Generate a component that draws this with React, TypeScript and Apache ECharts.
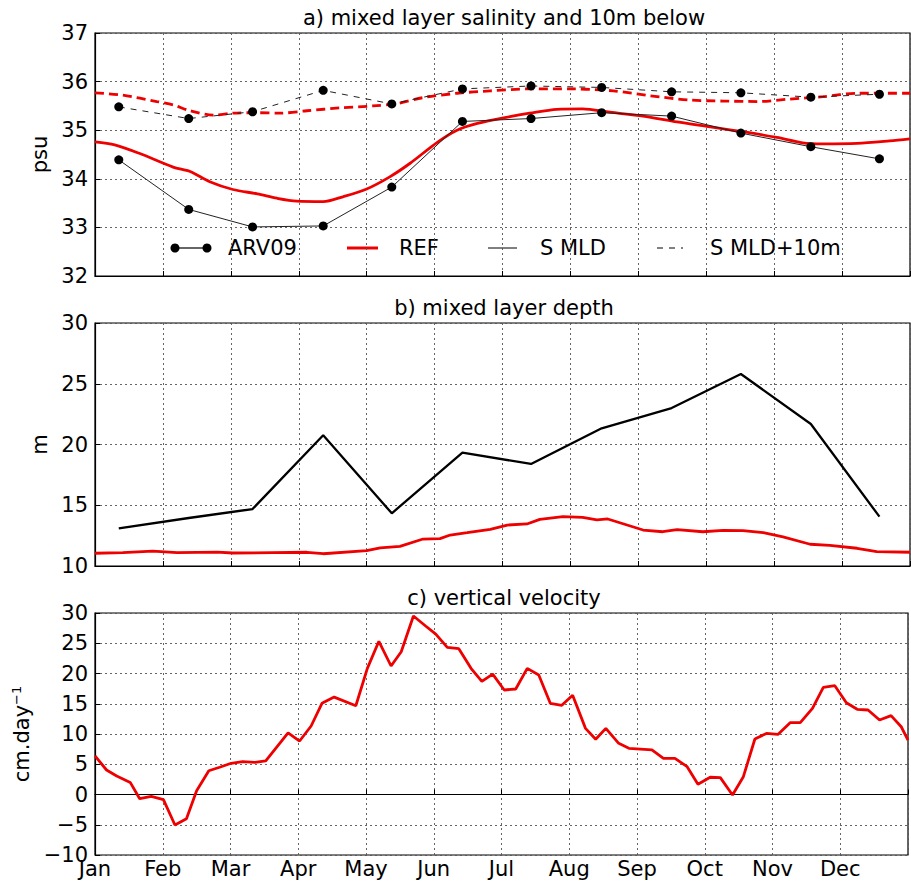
import React, { useEffect, useRef } from "react";
import * as echarts from "echarts";

// ---------- data ----------
const monthLabels = ["Jan", "Feb", "Mar", "Apr", "May", "Jun", "Jul", "Aug", "Sep", "Oct", "Nov", "Dec"];

// ARV09 monthly climatology (time in months since 1 Jan)
const arvTime = [0.35, 1.38, 2.32, 3.36, 4.37, 5.41, 6.42, 7.46, 8.49, 9.51, 10.54, 11.55];
const arvSalMld = [34.39, 33.37, 33.01, 33.03, 33.83, 35.18, 35.24, 35.36, 35.29, 34.94, 34.66, 34.41];
const arvSalMld10 = [35.48, 35.24, 35.38, 35.82, 35.54, 35.85, 35.91, 35.88, 35.79, 35.77, 35.68, 35.74];
const arvMld = [13.1, 13.95, 14.69, 20.76, 14.34, 19.33, 18.4, 21.33, 23.0, 25.8, 21.69, 14.06];

// REF model salinity in the mixed layer
const refSalTime = [0, 0.29, 0.66, 1.15, 1.4, 1.69, 2.03, 2.39, 2.68, 2.97, 3.36, 3.65, 4.0, 4.34, 4.64, 5.04, 5.33, 5.63, 6.11, 6.4, 6.8, 7.18, 7.58, 8.07, 8.57, 9.06, 9.54, 10.04, 10.42, 10.72, 11.22, 11.7, 12.0];
const refSalMld = [34.76, 34.7, 34.52, 34.24, 34.15, 33.94, 33.78, 33.69, 33.6, 33.54, 33.53, 33.63, 33.79, 34.04, 34.32, 34.75, 35.0, 35.14, 35.28, 35.35, 35.43, 35.44, 35.37, 35.29, 35.17, 35.07, 34.97, 34.85, 34.74, 34.72, 34.73, 34.78, 34.82];

// REF model salinity 10 m below the mixed layer
const refSal10Time = [0, 0.41, 0.91, 1.15, 1.4, 1.74, 2.03, 2.39, 2.72, 3.12, 3.61, 4.09, 4.45, 4.83, 5.33, 5.82, 6.4, 7.04, 7.63, 8.17, 8.76, 9.25, 9.75, 10.23, 10.72, 11.22, 12.0];
const refSalMld10 = [35.77, 35.72, 35.59, 35.52, 35.4, 35.31, 35.35, 35.36, 35.35, 35.4, 35.46, 35.5, 35.55, 35.67, 35.76, 35.81, 35.85, 35.85, 35.81, 35.71, 35.62, 35.6, 35.59, 35.64, 35.69, 35.76, 35.76];

// REF model mixed layer depth
const refMldTime = [0, 0.41, 0.85, 1.21, 1.8, 2.03, 2.62, 3.12, 3.36, 4.0, 4.2, 4.49, 4.83, 5.08, 5.23, 5.48, 5.82, 6.07, 6.36, 6.55, 6.89, 7.18, 7.39, 7.55, 8.07, 8.36, 8.57, 8.95, 9.25, 9.54, 9.84, 10.13, 10.53, 10.82, 11.22, 11.51, 12.0];
const refMld = [11.05, 11.1, 11.23, 11.1, 11.15, 11.07, 11.1, 11.13, 11.01, 11.26, 11.5, 11.62, 12.22, 12.25, 12.55, 12.74, 13.02, 13.37, 13.46, 13.84, 14.06, 14.01, 13.79, 13.87, 12.96, 12.82, 12.99, 12.82, 12.94, 12.91, 12.74, 12.39, 11.79, 11.7, 11.46, 11.18, 11.13];

// REF model vertical velocity (cm/day)
const refWTime = [0, 0.17, 0.32, 0.52, 0.66, 0.83, 1.01, 1.18, 1.35, 1.5, 1.68, 1.84, 2.01, 2.18, 2.36, 2.52, 2.85, 3.02, 3.19, 3.35, 3.53, 3.85, 4.02, 4.19, 4.37, 4.52, 4.7, 4.88, 5.03, 5.2, 5.37, 5.55, 5.71, 5.87, 6.04, 6.21, 6.38, 6.55, 6.72, 6.89, 7.05, 7.24, 7.39, 7.54, 7.73, 7.88, 8.22, 8.39, 8.56, 8.74, 8.9, 9.08, 9.23, 9.41, 9.57, 9.74, 9.91, 10.08, 10.26, 10.41, 10.59, 10.75, 10.92, 11.09, 11.25, 11.41, 11.58, 11.75, 11.9, 12.0];
const refW = [6.4, 4.05, 3.06, 2.0, -0.7, -0.3, -0.86, -5.04, -4.0, 0.63, 3.93, 4.5, 5.16, 5.42, 5.32, 5.54, 10.2, 8.84, 11.32, 15.07, 16.1, 14.67, 20.85, 25.32, 21.24, 23.6, 29.5, 27.85, 26.5, 24.33, 24.1, 20.85, 18.7, 19.9, 17.27, 17.44, 20.85, 19.75, 15.07, 14.74, 16.4, 10.93, 9.12, 10.93, 8.46, 7.64, 7.36, 5.98, 5.98, 4.6, 1.69, 2.85, 2.78, -0.08, 2.94, 9.17, 10.1, 9.93, 11.87, 11.87, 14.24, 17.7, 17.98, 15.17, 14.08, 13.97, 12.32, 13.03, 11.2, 9.0];

const panelTitles = ["a) mixed layer salinity and 10m below", "b) mixed layer depth", "c) vertical velocity"];
const legendLabels = ["ARV09", "REF", "S MLD", "S MLD+10m"];

// ---------- helpers ----------
const zip = (xs: number[], ys: number[]) => xs.map((x, i) => [x, ys[i]]);
const FONT = "DejaVu Sans";
const FS = 21;
const RED = "#ee0000";

const minusFmt = (v: number) => (v < 0 ? "\u2212" + Math.abs(v) : String(v));

export default function App() {
  const ref = useRef<HTMLDivElement>(null);

  useEffect(() => {
    if (!ref.current) return;
    const chart = echarts.init(ref.current, undefined, { renderer: "svg" });

    const grids = [
      { left: 95, right: 1, top: 33, height: 243 },
      { left: 95, right: 1, top: 323, height: 243 },
      { left: 95, right: 1, top: 613, height: 242 },
    ].map((g) => ({ ...g, show: true, borderColor: "#000", borderWidth: 1.2, backgroundColor: "transparent", containLabel: false }));

    const gridLine = { show: true, lineStyle: { color: "#555", type: [2, 3] as any, width: 0.9 } };
    const tick = { show: true, inside: true, length: 5, lineStyle: { color: "#000", width: 1 } };

    const xAxes = [0, 1, 2].map((i) => ({
      type: "value" as const,
      gridIndex: i,
      min: 0,
      max: 12,
      interval: 1,
      axisLine: { show: true, lineStyle: { color: "#000", width: 1.2 } },
      axisTick: tick,
      splitLine: gridLine,
      axisLabel: {
        show: i === 2,
        margin: 3,
        fontFamily: FONT,
        fontSize: FS,
        color: "#000",
        formatter: (v: number) => monthLabels[Math.round(v)] ?? "",
      },
    }));

    const yCommon = {
      type: "value" as const,
      axisLine: { show: true, lineStyle: { color: "#000", width: 1.2 } },
      axisTick: tick,
      splitLine: gridLine,
      nameLocation: "middle" as const,
      nameRotate: 90,
      axisLabel: { fontFamily: FONT, fontSize: FS, color: "#000", margin: 7, formatter: minusFmt },
    };

    const yAxes = [
      { ...yCommon, gridIndex: 0, min: 32, max: 37, interval: 1, name: "psu", nameGap: 43, nameTextStyle: { fontFamily: FONT, fontSize: FS, color: "#000" } },
      { ...yCommon, gridIndex: 1, min: 10, max: 30, interval: 5, name: "m", nameGap: 36, nameTextStyle: { fontFamily: FONT, fontSize: FS, color: "#000" } },
      {
        ...yCommon,
        gridIndex: 2,
        min: -10,
        max: 30,
        interval: 5,
        name: "cm.day{sup|\u22121}",
        nameGap: 56,
        nameTextStyle: {
          fontFamily: FONT,
          fontSize: FS,
          color: "#000",
          rich: { sup: { fontFamily: FONT, fontSize: 13, color: "#000", padding: [0, 0, 11, 0] } },
        },
      },
    ];

    const series: any[] = [
      {
        type: "line", xAxisIndex: 0, yAxisIndex: 0, data: zip(arvTime, arvSalMld),
        symbol: "circle", symbolSize: 9, itemStyle: { color: "#000" },
        lineStyle: { color: "#222", width: 1 }, z: 3,
      },
      {
        type: "line", xAxisIndex: 0, yAxisIndex: 0, data: zip(arvTime, arvSalMld10),
        symbol: "circle", symbolSize: 9, itemStyle: { color: "#000" },
        lineStyle: { color: "#222", width: 1, type: [6, 6] }, z: 3,
      },
      {
        type: "line", xAxisIndex: 0, yAxisIndex: 0, data: zip(refSalTime, refSalMld), smooth: 0.3,
        symbol: "none", lineStyle: { color: RED, width: 2.8 }, z: 2,
      },
      {
        type: "line", xAxisIndex: 0, yAxisIndex: 0, data: zip(refSal10Time, refSalMld10), smooth: 0.3,
        symbol: "none", lineStyle: { color: RED, width: 2.8, type: [9, 5] }, z: 2,
      },
      {
        type: "line", xAxisIndex: 1, yAxisIndex: 1, data: zip(arvTime, arvMld),
        symbol: "none", lineStyle: { color: "#000", width: 2.3 },
      },
      {
        type: "line", xAxisIndex: 1, yAxisIndex: 1, data: zip(refMldTime, refMld),
        symbol: "none", lineStyle: { color: RED, width: 2.8 },
      },
      {
        type: "line", xAxisIndex: 2, yAxisIndex: 2, data: zip(refWTime, refW),
        symbol: "none", lineStyle: { color: RED, width: 2.8 },
      },
    ];

    const legY = 248;
    const txt = (x: number, y: number, text: string, align = "left") => ({
      type: "text", x, y, silent: true,
      style: { text, fontFamily: FONT, fontSize: FS, fill: "#000", textAlign: align, textVerticalAlign: "middle" },
    });

    const graphic: any[] = [
      txt(504, 18, panelTitles[0], "center"),
      txt(504, 308, panelTitles[1], "center"),
      txt(504, 598, panelTitles[2], "center"),
      // legend
      { type: "line", shape: { x1: 175, y1: legY, x2: 207, y2: legY }, style: { stroke: "#000", lineWidth: 1.2 } },
      { type: "circle", shape: { cx: 175, cy: legY, r: 4.5 }, style: { fill: "#000" } },
      { type: "circle", shape: { cx: 207, cy: legY, r: 4.5 }, style: { fill: "#000" } },
      txt(228, legY, legendLabels[0]),
      { type: "line", shape: { x1: 347, y1: legY, x2: 378, y2: legY }, style: { stroke: RED, lineWidth: 3 } },
      txt(399, legY, legendLabels[1]),
      { type: "line", shape: { x1: 488, y1: legY, x2: 517, y2: legY }, style: { stroke: "#000", lineWidth: 1 } },
      txt(540, legY, legendLabels[2]),
      { type: "line", shape: { x1: 657, y1: legY, x2: 683, y2: legY }, style: { stroke: "#000", lineWidth: 1, lineDash: [6, 6] } },
      txt(710, legY, legendLabels[3]),
    ];

    chart.setOption({
      animation: false,
      backgroundColor: "#fff",
      textStyle: { fontFamily: FONT },
      grid: grids,
      xAxis: xAxes,
      yAxis: yAxes,
      series,
      graphic,
    });

    return () => chart.dispose();
  }, []);

  return <div ref={ref} style={{ position: "absolute", left: 0, top: 0, width: 911, height: 884 }} />;
}
